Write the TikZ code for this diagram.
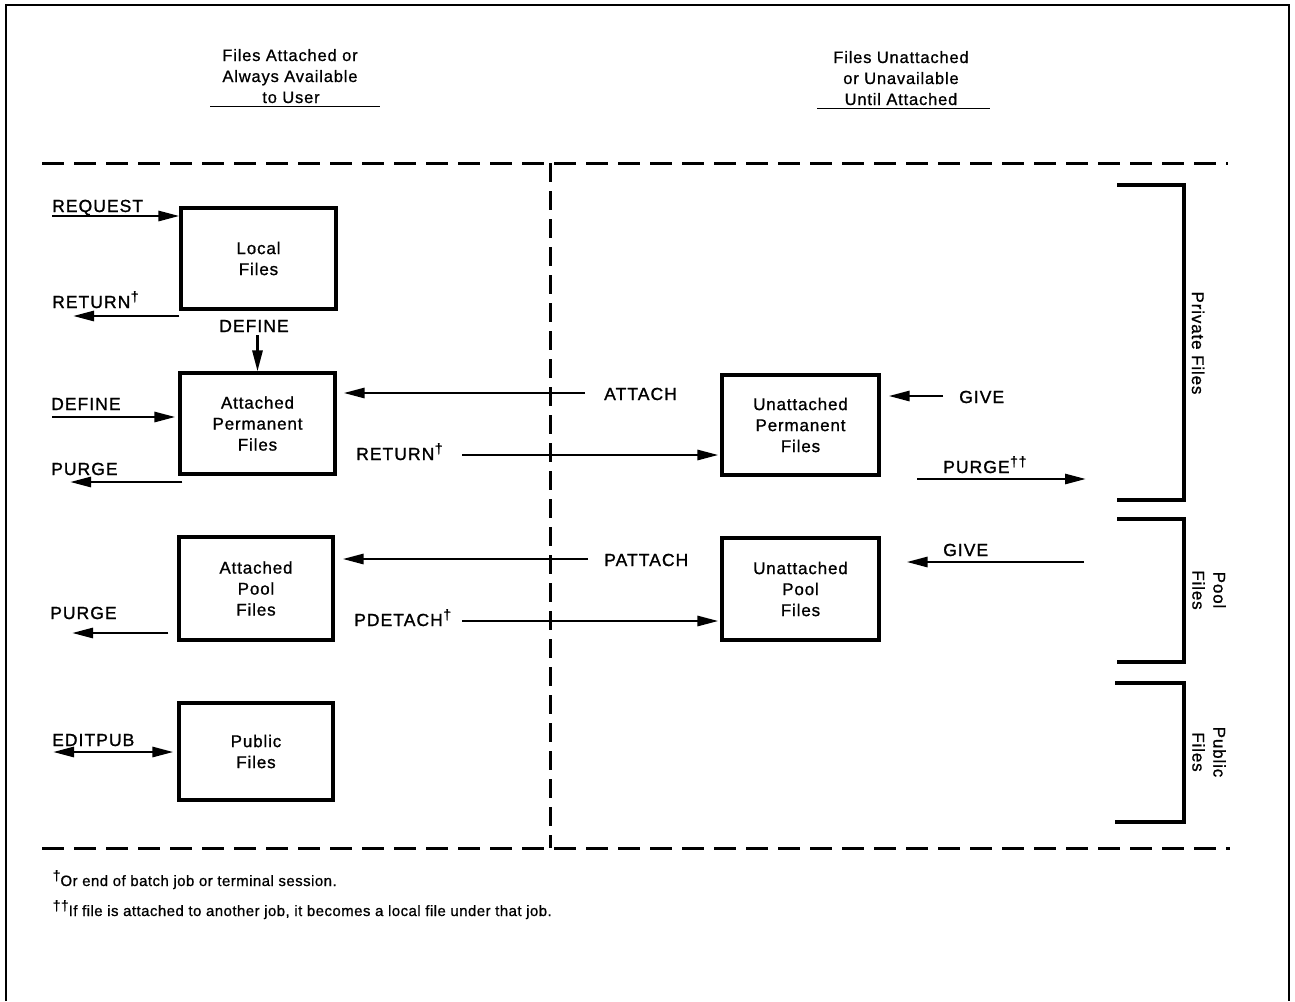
\documentclass[tikz,border=0pt]{standalone}
\usepackage{fontspec}
\setmainfont{Liberation Sans}
\newfontfamily\labfam[LetterSpace=6,FakeBold=1.2]{Liberation Sans}
\newfontfamily\boxfam[LetterSpace=5,FakeBold=1.0]{Liberation Sans}
\newfontfamily\hdfam[LetterSpace=5,FakeBold=0.8]{Liberation Sans}
\newfontfamily\fnfam[LetterSpace=3,FakeBold=0.8]{Liberation Sans}
\newcommand\boxfont{\boxfam\fontsize{17}{21}\selectfont}
\newcommand\labfont{\labfam\fontsize{17.5}{21}\selectfont}
\newcommand\hdfont{\hdfam\fontsize{16.5}{21}\selectfont}
\newcommand\fnfont{\fnfam\fontsize{15}{18}\selectfont}
\newcommand\dg{\raisebox{0.38em}{\fontsize{14}{14}\selectfont\kern0.5pt †}}
\newcommand\ddg{\raisebox{0.38em}{\fontsize{14}{14}\selectfont\kern0.5pt ††}}
\usetikzlibrary{arrows.meta}
\tikzset{
  fbox/.style={draw, line width=3.1pt, align=center, font=\boxfont, inner sep=0pt},
  lab/.style={font=\labfont, inner sep=0pt, anchor=base west},
  hd/.style={font=\hdfont, inner sep=0pt, anchor=base},
  fn/.style={font=\fnfont, inner sep=0pt, anchor=base west},
  side/.style={font=\boxfont, inner sep=0pt, rotate=-90, align=center},
  arr/.style={line width=2.8pt, -{Triangle[length=21pt,width=10pt]}},
  darr/.style={line width=2.8pt, {Triangle[length=21pt,width=10pt]}-{Triangle[length=21pt,width=10pt]}},
  dsh/.style={line width=3pt, dash pattern=on 22pt off 10pt},
  vdsh/.style={line width=3pt, dash pattern=on 19pt off 9pt},
  brk/.style={line width=3.1pt},
  frame/.style={line width=2.6pt}
}
\begin{document}
\begin{tikzpicture}[x=1pt,y=-1pt]
\useasboundingbox (0,0) rectangle (1295,1001);
\fill[white] (0,0) rectangle (1295,1001);
% outer frame
\draw[frame] (6,1001) -- (6,5) -- (1289,5) -- (1289,1001);

% headers
\node[hd] (hl1) at (290,61) {Files Attached or};
\node[hd] (hl2) at (290,82) {Always Available};
\node[hd] (hl3) at (291,103) {to User};
\draw[line width=1.6pt] (210,106.5) -- (380,106.5);
\node[hd] (hr1) at (901,63) {Files Unattached};
\node[hd] (hr2) at (901,84) {or Unavailable};
\node[hd] (hr3) at (901,105) {Until Attached};
\draw[line width=1.6pt] (817,108.5) -- (990,108.5);

% dashed separators
\draw[dsh] (42,163) -- (1228,163);
\draw[dsh] (42,848) -- (1230,848);
\draw[vdsh] (550,163) -- (550,848);

% boxes
\node[fbox, minimum width=155pt, minimum height=101pt] (local)   at (258.5,258.5) {Local\\Files};
\node[fbox, minimum width=155pt, minimum height=101pt] (attperm) at (257.5,423.5) {Attached\\Permanent\\Files};
\node[fbox, minimum width=154pt, minimum height=103pt] (attpool) at (256,588.5) {Attached\\Pool\\Files};
\node[fbox, minimum width=154pt, minimum height=97pt]  (public)  at (256,751.5) {Public\\Files};
\node[fbox, minimum width=157pt, minimum height=100pt] (unperm)  at (800.5,425) {Unattached\\Permanent\\Files};
\node[fbox, minimum width=157pt, minimum height=102pt] (unpool)  at (800.5,589) {Unattached\\Pool\\Files};

% free arrow ends
\coordinate (reqS) at (52,216);
\coordinate (ret1E) at (73,316);
\coordinate (def2S) at (52,417);
\coordinate (pg1E) at (70,482);
\coordinate (attS) at (585,393);
\coordinate (ret2S) at (462,455);
\coordinate (patS) at (588,559);
\coordinate (pdtS) at (462,621);
\coordinate (pg2E) at (72,633);
\coordinate (edE) at (53,752);
\coordinate (gv1S) at (943,396);
\coordinate (pg3S) at (917,479);
\coordinate (pg3E) at (1086,479);
\coordinate (gv2S) at (1084,562);

% labels
\node[lab] (lreq) at (52,212) {REQUEST};
\node[lab] (lret1) at (52,308) {RETURN\dg};
\node[lab, anchor=base] (ldefd) at (254,332) {DEFINE};
\node[lab] (ldef2) at (51,410) {DEFINE};
\node[lab] (lpg1) at (51,475) {PURGE};
\node[lab] (lret2) at (356,460) {RETURN\dg};
\node[lab] (latt) at (604,400) {ATTACH};
\node[lab] (lpat) at (604,566) {PATTACH};
\node[lab] (lpdt) at (354,626) {PDETACH\dg};
\node[lab] (lpg2) at (50,619) {PURGE};
\node[lab] (led) at (52,746) {EDITPUB};
\node[lab] (lgv1) at (959,403) {GIVE};
\node[lab] (lpg3) at (943,473) {PURGE\ddg};
\node[lab] (lgv2) at (943,556) {GIVE};

% arrows
\draw[arr] (reqS) -- (reqS -| local.west);
\draw[arr] (ret1E -| local.west) -- (ret1E);
\draw[arr] ([yshift=-3pt]attperm.north |- ldefd.south) -- (attperm.north);
\draw[arr] (def2S) -- ([xshift=-3pt]def2S -| attperm.west);
\draw[arr] ([xshift=4pt]pg1E -| attperm.west) -- (pg1E);
\draw[arr, shorten >=7pt] (attS) -- (attS -| attperm.east);
\draw[arr, shorten >=2pt] (ret2S) -- (ret2S -| unperm.west);
\draw[arr, shorten >=8pt] (patS) -- (patS -| attpool.east);
\draw[arr, shorten >=2pt] (pdtS) -- (pdtS -| unpool.west);
\draw[arr] ([xshift=-9pt]pg2E -| attpool.west) -- (pg2E);
\draw[darr] (edE) -- ([xshift=-4pt]edE -| public.west);
\draw[arr, shorten >=8pt] (gv1S) -- (gv1S -| unperm.east);
\draw[arr] (pg3S) -- (pg3E);
\draw[arr, shorten >=26pt] (gv2S) -- (gv2S -| unpool.east);

% brackets
\draw[brk] (1117,185) -- (1184,185) -- (1184,500) -- (1117,500);
\draw[brk] (1117,519) -- (1184,519) -- (1184,662) -- (1117,662);
\draw[brk] (1115,683) -- (1184,683) -- (1184,822) -- (1115,822);
\node[side] (sprv) at (1198,343) {Private Files};
\node[side] (spool) at (1209,590) {Pool\\Files};
\node[side] (spub) at (1209,752) {Public\\Files};

% footnotes
\node[fn] (fn1) at (52,886) {\dg Or end of batch job or terminal session.};
\node[fn] (fn2) at (52,916) {\ddg If file is attached to another job, it becomes a local file under that job.};
\end{tikzpicture}
\end{document}
